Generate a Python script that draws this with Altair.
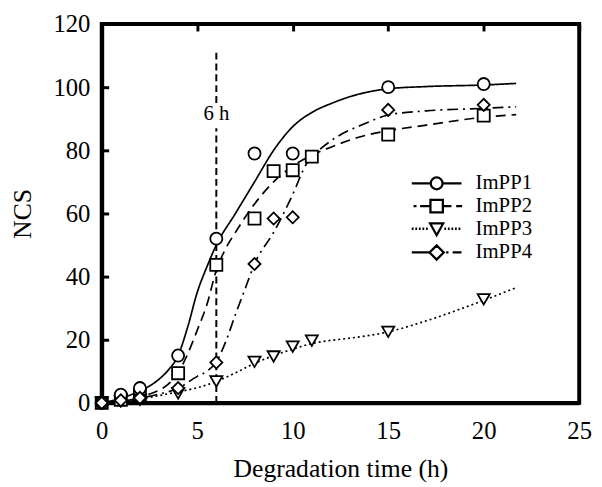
import altair as alt
import pandas as pd

SERIES = ["ImPP1", "ImPP2", "ImPP3", "ImPP4"]

P1_X = [0, 1, 2, 4, 6, 8, 10, 15, 20]
P1_Y = [0, 2.6, 4.7, 15, 52, 79, 79, 100, 101]
P2_X = [0, 1, 2, 4, 6, 8, 9, 10, 11, 15, 20]
P2_Y = [0, 1.0, 2.6, 9.4, 43.7, 58.4, 73.4, 73.7, 78, 85, 91]
P3_X = [0, 1, 2, 4, 6, 8, 9, 10, 11, 15, 20]
P3_Y = [0, 0.5, 1.0, 3.0, 6.8, 13, 14.7, 17.8, 19.7, 22.5, 32.8]
P4_X = [0, 1, 2, 4, 6, 8, 9, 10, 15, 20]
P4_Y = [0, 0.8, 1.6, 4.7, 12.8, 44, 58.4, 58.8, 92.8, 94.4]

# fitted curves
C1_X = [0, 1, 2, 3, 3.5, 4, 4.5, 5, 5.5, 6, 7, 8, 9, 10, 11, 12, 13, 15, 17, 20, 21.7]
C1_Y = [0, 1.5, 3.8, 7.5, 10.5, 15, 24, 35, 43, 50, 60, 70, 80, 87.5, 92, 94.8, 97, 99.5, 100.2, 100.7, 101.2]
C2_X = [0, 1, 2, 3, 3.5, 4, 4.5, 5, 5.5, 6, 6.5, 7, 8, 9, 10, 11, 12, 13.6, 15, 17, 20, 21.7]
C2_Y = [0, 0.8, 2, 4, 6, 9.5, 15.5, 23, 31, 42, 49, 54, 63, 70, 75, 78.5, 81, 84.4, 86.2, 88, 90.5, 91.3]
C3_X = [0, 1, 2, 3, 4, 5, 6, 7, 8, 9, 10, 11, 12, 13, 15, 17, 20, 21.7]
C3_Y = [0, 0.3, 1.2, 2.3, 3.5, 4.8, 6.8, 9.5, 12.5, 15, 17, 18.8, 19.8, 20.5, 22.5, 26, 32.5, 36.5]
C4_X = [0, 1, 2, 3, 4, 5, 5.5, 6, 6.5, 7, 7.5, 8, 9, 10, 10.7, 11.2, 12, 13, 13.6, 15, 17, 20, 21.7]
C4_Y = [0, 0.5, 1.5, 2.8, 4.6, 8.4, 10, 13, 19.5, 28, 36, 44, 54, 66, 75.5, 79, 83, 86.5, 88, 91.2, 92.5, 93.3, 93.8]

X_TICKS = [0, 5, 10, 15, 20, 25]
Y_TICKS = [0, 20, 40, 60, 80, 100, 120]

MARK_LABEL = "6 h"
MARK_X = 6
MARK_LABEL_Y = 91.5
MARK_Y0 = [0, 95]
MARK_Y1 = [87, 111.5]

FONT = "Liberation Serif"

point_order = [("ImPP2", P2_X, P2_Y), ("ImPP3", P3_X, P3_Y),
               ("ImPP1", P1_X, P1_Y), ("ImPP4", P4_X, P4_Y)]
points = pd.DataFrame([
    {"series": s, "x": x, "y": y}
    for s, xs, ys in point_order for x, y in zip(xs, ys)
])
curves = pd.DataFrame([
    {"series": s, "x": x, "y": y}
    for s, xs, ys in [("ImPP1", C1_X, C1_Y), ("ImPP2", C2_X, C2_Y),
                      ("ImPP3", C3_X, C3_Y), ("ImPP4", C4_X, C4_Y)]
    for x, y in zip(xs, ys)
])
marker_rule = pd.DataFrame({"x": [MARK_X] * len(MARK_Y0), "y": MARK_Y0, "y2": MARK_Y1})
marker_text = pd.DataFrame({"x": [MARK_X], "y": [MARK_LABEL_Y], "t": [MARK_LABEL]})

# legend glyphs: line + marker drawn as one symbol path
dots = "".join(f"M{a:.2f},0H{a + 0.3:.2f}" for a in [-4.2, -3.6, -3.0, -2.4, -1.8])
dots_r = "".join(f"M{a:.2f},0H{a + 0.3:.2f}" for a in [1.3, 1.9, 2.5, 3.1, 3.7])
LEGEND_PATHS = [
    "M-4.2,0H-1M1,0H4.2M-1,0A1,1 0 1,0 1,0A1,1 0 1,0 -1,0Z",
    "M-3.9,0H-3.4M-2.8,0H-1.05M1.05,0H2.5M3.3,0H4.3M-1.05,-1.05H1.05V1.05H-1.05Z",
    dots + dots_r + "M-1.1,-0.9H1.1L0,1.1Z",
    "M-4.2,0H-1.2M1.6,0H2.0M2.7,0H4.2M-1.2,0L0,-1.2L1.2,0L0,1.2Z",
]

x_enc = alt.X("x:Q", scale=alt.Scale(domain=[0, 25], nice=False),
              axis=alt.Axis(values=X_TICKS, title="Degradation time (h)",
                            labelPadding=16, titlePadding=13, labelFlush=False))
y_enc = alt.Y("y:Q", scale=alt.Scale(domain=[0, 120], nice=False),
              axis=alt.Axis(values=Y_TICKS, title="NCS", labelPadding=12,
                            titlePadding=18, labelFlush=False))

lines = alt.Chart(curves).mark_line(color="black", strokeWidth=1.7, interpolate="monotone").encode(
    x=x_enc, y=y_enc,
    strokeDash=alt.StrokeDash("series:N", scale=alt.Scale(
        domain=SERIES, range=[[1, 0], [10, 6], [2, 3], [11, 5, 2, 5]]), legend=None),
)

pts = alt.Chart(points).mark_point(filled=True, fill="white", stroke="black",
                                   strokeWidth=1.8, size=150, opacity=1).encode(
    x="x:Q", y="y:Q",
    shape=alt.Shape("series:N", scale=alt.Scale(
        domain=SERIES, range=["circle", "square", "triangle-down", "diamond"]), legend=None),
)

legend_layer = alt.Chart(points).mark_point(opacity=0, stroke="black").encode(
    x="x:Q", y="y:Q",
    shape=alt.Shape("series:N", scale=alt.Scale(domain=SERIES, range=LEGEND_PATHS),
                    legend=alt.Legend(title=None, orient="none", legendX=329, legendY=151,
                                      symbolSize=144, symbolFillColor="white",
                                      symbolStrokeColor="black", symbolStrokeWidth=2.3,
                                      symbolOpacity=1, labelFont=FONT, labelFontSize=21,
                                      labelColor="black", labelOffset=29, rowPadding=0,
                                      padding=0)),
)

rule = alt.Chart(marker_rule).mark_rule(color="black", strokeWidth=2, strokeDash=[7, 4]).encode(
    x="x:Q", y="y:Q", y2="y2:Q")
txt = alt.Chart(marker_text).mark_text(font=FONT, fontSize=21, color="black",
                                       align="center", baseline="middle").encode(
    x="x:Q", y="y:Q", text="t:N")

chart = alt.layer(lines, rule, txt, legend_layer, pts).resolve_scale(
    shape="independent"
).properties(
    width=484, height=384,
    autosize=alt.AutoSizeParams(type="none"),
    padding={"left": 95, "top": 13, "right": 15, "bottom": 82},
).configure_view(
    stroke="black", strokeWidth=4
).configure_axis(
    domainColor="black", domainWidth=4, ticks=False, grid=True, gridColor="black",
    gridWidth=3, gridDash=[7, 2000], gridOpacity=1, labelFont=FONT, labelFontSize=25,
    labelColor="black", titleFont=FONT, titleFontSize=26, titleFontWeight="normal",
    titleColor="black", zindex=0,
)

chart.save("out.html", embed_options={"renderer": "svg", "actions": False})
